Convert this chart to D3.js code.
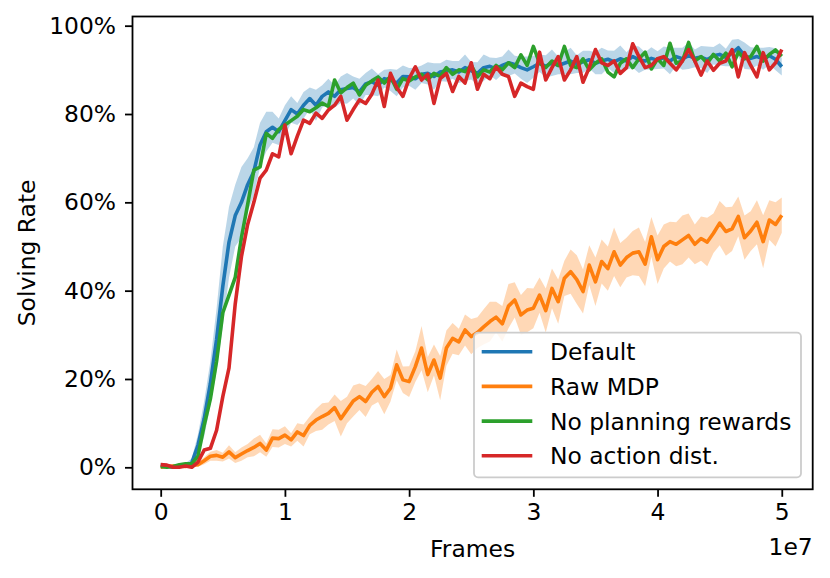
<!DOCTYPE html>
<html>
<head>
<meta charset="utf-8">
<script src="https://cdn.jsdelivr.net/npm/d3@7"></script>
<style>
  body { margin: 0; background: #fff; }
  text { font-family: "DejaVu Sans", sans-serif; }
</style>
</head>
<body>
<svg id="chart"></svg>
<script>
// frames are logged every 5e5 steps, 0 .. 5e7
const frames = d3.range(101).map(i => i * 0.05e7);

const seriesNames = ['Default', 'Raw MDP', 'No planning rewards', 'No action dist.'];
const seriesColors = ['#1f77b4', '#ff7f0e', '#2ca02c', '#d62728'];

const defaultMean = [
  0.5, 0.3, 0, 0.3, 0.4, 1.0,
  5, 11, 19, 29, 41, 51, 57, 60, 64, 67, 73, 76, 77, 76, 78.5,
  81, 80, 82, 83.5, 82, 84, 85, 84, 85.5, 85.8, 86, 85, 86.8, 87.3, 86.5, 88, 87.7, 87, 88.5, 88.4,
  88, 89, 89.2, 88.5, 89.5, 89.8, 90, 89.5, 90.5, 89.8, 89.2, 90.5, 90.8, 90.2, 91, 91.6, 91.2, 90.5, 90, 90.7,
  91.5, 90.8, 91.6, 91, 91.5, 92, 91.3, 91.8, 92.3, 91.5, 92, 92.4, 91.8, 92.5, 92, 93, 92.3, 92, 92.6, 92.2,
  92.8, 92, 93, 92.5, 93.2, 92.6, 92.9, 92.3, 93.2, 93.5, 92.8, 93.8, 95, 93.2, 92.6, 93, 92.5, 93.2, 92.4, 90.7
];
const defaultSpread = [
  0.5, 0.5, 0.4, 0.5, 0.6, 1.0,
  2.5, 4, 5, 7, 9, 8, 7, 8, 6, 5.5, 5, 4.5, 3.5, 3, 3.5,
  3, 2.5, 3, 2.5, 3.5, 2.5, 3, 2.5, 3, 3.5, 2.5, 3, 2.5, 3, 2.5, 2, 2.5, 3, 2.5, 2,
  2.5, 2, 2.5, 3, 2, 2.5, 2, 2.5, 3, 2, 2.5, 3, 2, 2.5, 2, 3, 2, 2.5, 3, 2.5,
  2, 2.5, 3, 2, 2.5, 3, 2, 2.5, 2, 2.5, 3, 2, 2.5, 3, 2, 2.5, 3, 2, 2.5, 2,
  2.5, 3, 2, 2.5, 3, 2, 2.5, 3, 2, 2.5, 2, 3, 2, 3, 2.5, 2, 2.5, 2, 2.5, 2
];

const rawMean = [
  0, 0.2, 0.3, 0.3, 0.2, 0.5,
  0.6, 1.5, 2.5, 2.7, 2.3, 3.5, 2.2, 3, 3.8, 4.5, 5.4, 3.9, 6.6, 6.5, 7.3,
  6.2, 8, 7.2, 9.5, 10.7, 11.5, 12.2, 13.5, 11, 13, 15, 16, 14.9, 17, 18.3, 16, 17.9, 23.2, 19.8, 19.4,
  22.8, 27, 21, 24.3, 20.2, 27, 29.2, 28.4, 31.1, 29.6, 30.5, 31.8, 33, 34, 32.5, 36.5, 37.9, 34.5, 35.6, 36,
  39, 35.5, 40.5, 37.5, 42.8, 44.3, 42.5, 39.8, 45.8, 42, 46.6, 45, 48.8, 45.8, 47.5, 48.5, 48.8, 46, 52.2, 47,
  50, 51.1, 50.5, 51.5, 52.5, 50.5, 51.8, 51, 53, 55.3, 53.4, 54, 56.8, 52, 53.5, 55.5, 51.1, 56, 55, 57.1
];
const rawSpread = [
  0.3, 0.3, 0.4, 0.4, 0.3, 0.5,
  0.5, 0.8, 1, 1.2, 1, 1.5, 1.2, 1.5, 1.5, 2, 2, 1.5, 2, 2, 2,
  1.5, 2, 2.5, 2, 2.5, 3, 2.5, 3, 4, 3, 3.5, 3, 3.5, 3, 3.5, 4, 3, 3.5, 3, 3.5,
  3.5, 5, 4, 3.5, 5, 4, 3.5, 3, 3.5, 4, 3.5, 4, 4.5, 3.5, 4, 5, 4, 4.5, 5, 4.5,
  4, 5, 4.5, 5, 4, 5, 5.5, 5, 4.5, 5.5, 5, 5, 5.5, 5, 4.5, 5, 5.5, 5, 4.5, 5.5,
  5, 4.5, 5, 5.5, 5, 4.5, 5, 5.5, 4.5, 5, 5.5, 5, 4.5, 5, 4.5, 5, 6, 4.5, 5, 4
];

const noPlanMean = [
  0.2, 0, 0.2, 0.6, 0.8, 0.8,
  2.5, 9.5, 15.5, 24, 35, 39, 43, 52, 59.5, 67.3, 68, 75.6, 74.5, 76.5, 77.5,
  78.5, 79.5, 81, 80.5, 81.4, 82.5, 81.7, 87.7, 84.8, 86, 87, 84.3, 86.5, 87.5, 88.4, 87, 88.5, 85.6, 88, 87.5,
  88.4, 89, 87.8, 89.2, 88.5, 90.5, 89, 90, 89.6, 91, 88.4, 90, 89.5, 91, 90, 91.6, 90.5, 93.4, 91, 95.3,
  91.5, 90.5, 92, 91, 95.3, 91, 90.5, 92.5, 90, 91.5, 92.5, 89.5, 88.4, 91.5, 92.5, 90.5, 92.5, 94, 90.2, 92.5,
  91, 96, 91.5, 92, 96.2, 92, 93, 91.5, 93.5, 92, 93.8, 90.7, 94, 92.5, 93, 95.3, 92, 93.5, 94.5, 93.1
];

const noActionMean = [
  0.6, 0.5, 0, 0, 0.3, 0,
  1.2, 3.9, 4.3, 8.4, 16, 22.5, 37, 47.7, 55, 60, 65.5, 67.3, 71, 70.3, 77.5,
  71, 75, 78.6, 77.9, 80.2, 79, 80.9, 82, 84, 78.6, 81, 83.2, 82.4, 84.5, 87.7, 81.7, 89.2, 86, 84, 88,
  90.7, 87.7, 89, 82.4, 88, 89.2, 85.1, 88.5, 87, 91.6, 85.6, 89, 88, 90.7, 89, 88.5, 84, 87, 86.2, 85.6,
  94, 87.7, 90.5, 93, 87.7, 90, 93, 87.2, 90.5, 94.6, 91.6, 91, 92, 89.2, 90.5, 95.9, 93, 90.5, 91, 92.5,
  93, 91.5, 90, 92, 94.6, 92, 88.8, 92, 89.9, 91.5, 92, 94.6, 88.4, 93.9, 91, 88.4, 93.9, 90, 91.6, 94.6
];

const xTicks = [0, 1e7, 2e7, 3e7, 4e7, 5e7];
const xTickLabels = ['0', '1', '2', '3', '4', '5'];
const yTicks = [0, 20, 40, 60, 80, 100];

const config = {
  width: 830,
  height: 578,
  margin: {top: 16.5, right: 17.3, bottom: 88.7, left: 132.5},
  fontSize: 23.4,
  lineWidth: 3.6
};

const svg = d3.select('#chart')
  .attr('width', config.width)
  .attr('height', config.height);

const innerW = config.width - config.margin.left - config.margin.right;
const innerH = config.height - config.margin.top - config.margin.bottom;

const chart = svg.append('g')
  .attr('transform', `translate(${config.margin.left}, ${config.margin.top})`);

const xscale = d3.scaleLinear()
  .domain([-0.227e7, 5.249e7])
  .range([0, innerW]);

const yscale = d3.scaleLinear()
  .domain([-4.98, 102.08])
  .range([innerH, 0]);

const line = d3.line()
  .x((d, i) => xscale(frames[i]))
  .y(d => yscale(d));

const band = d3.area()
  .x(d => xscale(d.x))
  .y0(d => yscale(d.lo))
  .y1(d => yscale(d.hi));

const bandData = (mean, spread) => mean.map((m, i) => ({
  x: frames[i],
  lo: Math.max(0, m - spread[i]),
  hi: Math.min(100, m + spread[i])
}));

const plot = chart.append('g');

// Default with shaded spread
plot.append('path')
  .datum(bandData(defaultMean, defaultSpread))
  .attr('d', band)
  .attr('fill', seriesColors[0])
  .attr('fill-opacity', 0.3);
plot.append('path')
  .datum(defaultMean)
  .attr('d', line)
  .attr('fill', 'none')
  .attr('stroke', seriesColors[0])
  .attr('stroke-width', config.lineWidth)
  .attr('stroke-linejoin', 'round');

// Raw MDP with shaded spread
plot.append('path')
  .datum(bandData(rawMean, rawSpread))
  .attr('d', band)
  .attr('fill', seriesColors[1])
  .attr('fill-opacity', 0.3);
plot.append('path')
  .datum(rawMean)
  .attr('d', line)
  .attr('fill', 'none')
  .attr('stroke', seriesColors[1])
  .attr('stroke-width', config.lineWidth)
  .attr('stroke-linejoin', 'round');

[noPlanMean, noActionMean].forEach((vals, k) => {
  plot.append('path')
    .datum(vals)
    .attr('d', line)
    .attr('fill', 'none')
    .attr('stroke', seriesColors[k + 2])
    .attr('stroke-width', config.lineWidth)
    .attr('stroke-linejoin', 'round');
});

// axes
const xaxis = d3.axisBottom(xscale)
  .tickValues(xTicks)
  .tickFormat((d, i) => xTickLabels[i])
  .tickSize(7.5)
  .tickPadding(7)
  .tickSizeOuter(0);

const yaxis = d3.axisLeft(yscale)
  .tickValues(yTicks)
  .tickFormat(d => d + '%')
  .tickSize(7.5)
  .tickPadding(9)
  .tickSizeOuter(0);

const xg = chart.append('g')
  .attr('transform', `translate(0, ${innerH})`)
  .call(xaxis);
const yg = chart.append('g').call(yaxis);

[xg, yg].forEach(g => {
  g.select('.domain').remove();
  g.selectAll('line').attr('stroke', '#000').attr('stroke-width', 1.8);
  g.selectAll('text')
    .attr('fill', '#000')
    .style('font-size', config.fontSize + 'px')
    .style('font-family', '"DejaVu Sans", sans-serif');
});

// frame
chart.append('rect')
  .attr('width', innerW)
  .attr('height', innerH)
  .attr('fill', 'none')
  .attr('stroke', '#000')
  .attr('stroke-width', 1.8);

// labels
svg.append('text')
  .attr('x', config.margin.left + innerW / 2)
  .attr('y', 556.5)
  .attr('text-anchor', 'middle')
  .style('font-size', config.fontSize + 'px')
  .text('Frames');

svg.append('text')
  .attr('x', config.margin.left + innerW)
  .attr('y', 555)
  .attr('text-anchor', 'end')
  .style('font-size', config.fontSize + 'px')
  .text('1e7');

svg.append('text')
  .attr('transform', `translate(35, ${config.margin.top + innerH / 2}) rotate(-90)`)
  .attr('text-anchor', 'middle')
  .style('font-size', config.fontSize + 'px')
  .text('Solving Rate');

// legend
const legend = svg.append('g')
  .attr('transform', 'translate(474, 332.7)');

legend.append('rect')
  .attr('width', 327)
  .attr('height', 144.6)
  .attr('rx', 4)
  .attr('fill', '#fff')
  .attr('fill-opacity', 0.8)
  .attr('stroke', '#cccccc')
  .attr('stroke-width', 1.8);

const items = legend.selectAll('.legend-item')
  .data(seriesNames)
  .join('g')
  .attr('class', 'legend-item')
  .attr('transform', (d, i) => `translate(0, ${19 + i * 34.7})`);

items.append('line')
  .attr('x1', 7.7)
  .attr('x2', 58.3)
  .attr('stroke', (d, i) => seriesColors[i])
  .attr('stroke-width', config.lineWidth);

items.append('text')
  .attr('x', 76)
  .attr('dy', '0.36em')
  .style('font-size', config.fontSize + 'px')
  .text(d => d);
</script>
</body>
</html>
